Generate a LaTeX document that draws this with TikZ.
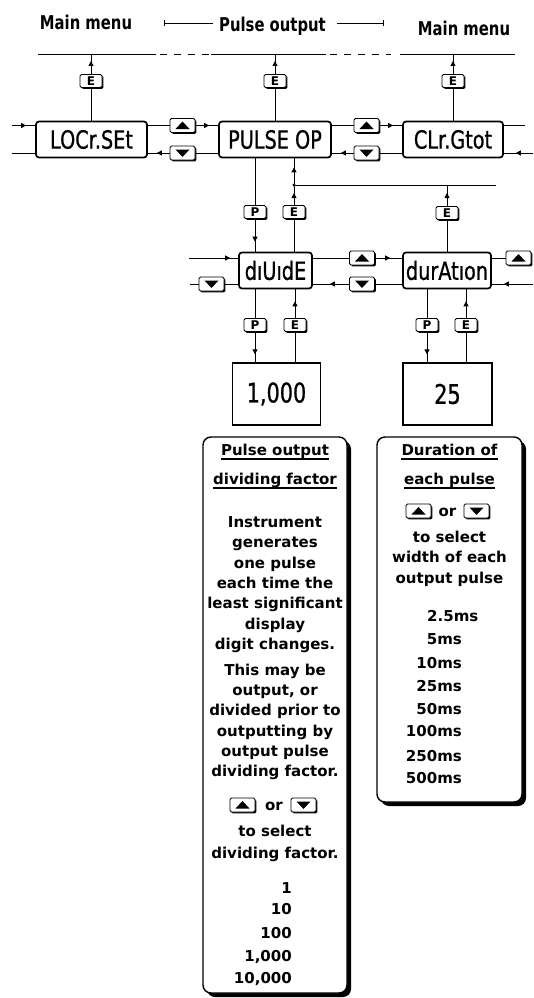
\documentclass[tikz,border=0pt]{standalone}
\usepackage{fontspec}
\setmainfont{DejaVu Sans}
\newfontfamily\dispfont[FakeStretch=0.77,FakeBold=0.8]{DejaVu Sans}
\newfontfamily\headfont[FakeStretch=0.78]{DejaVu Sans}
\usetikzlibrary{arrows.meta,calc,decorations.markings,shadows}
\tikzset{
  conn/.style={line width=0.8pt},
  tipat/.style={postaction={decorate}, decoration={markings, mark=at position #1 with {\arrow{Triangle[length=5pt,width=5pt]}}}},
  menubox/.style={draw, line width=1.7pt, rounded corners=3pt, minimum height=36pt, inner sep=0pt, fill=white, font=\dispfont\fontsize{25}{25}\selectfont},
  keybox/.style={draw, line width=0.9pt, rounded corners=1.5pt, minimum width=22pt, minimum height=13pt, inner sep=0pt, fill=white, font=\bfseries\fontsize{12}{12}\selectfont, general shadow={shadow xshift=1.4pt, shadow yshift=-1.4pt, fill=black}},
  arrkey/.style={keybox, minimum width=25pt, minimum height=14pt},
  upkey/.style={arrkey, path picture={\fill[black, sharp corners] ([xshift=-7pt,yshift=-3.5pt]path picture bounding box.center) -- ([xshift=7pt,yshift=-3.5pt]path picture bounding box.center) -- ([yshift=4pt]path picture bounding box.center) -- cycle;}},
  dnkey/.style={arrkey, path picture={\fill[black, sharp corners] ([xshift=-7pt,yshift=3.5pt]path picture bounding box.center) -- ([xshift=7pt,yshift=3.5pt]path picture bounding box.center) -- ([yshift=-4pt]path picture bounding box.center) -- cycle;}},
  valbox/.style={draw, line width=1.3pt, minimum width=88pt, minimum height=62pt, inner sep=0pt, font=\dispfont\fontsize{27}{27}\selectfont},
  infobox/.style={draw, line width=1.4pt, rounded corners=8pt, fill=white, inner sep=0pt, general shadow={shadow xshift=4pt, shadow yshift=-4pt, fill=black}},
  bodytext/.style={font=\bfseries\fontsize{15}{18}\selectfont, inner sep=0pt, anchor=base},
  toplabel/.style={font=\headfont\bfseries\fontsize{19}{19}\selectfont, inner sep=0pt, anchor=base},
  ulined/.style={line width=1.3pt}
}
\begin{document}
\begin{tikzpicture}[x=1pt,y=-1pt]
\path[fill=white] (0,0) rectangle (533,998);
\useasboundingbox (0,0) rectangle (533,998);

% ---------- top labels ----------
\node[toplabel] (mmL) at (86,30) {Main menu};
\node[toplabel] (po) at (272.5,32) {Pulse output};
\node[toplabel] (mmR) at (464,36) {Main menu};
\coordinate (poL) at (164,23); \coordinate (poLe) at (213,23);
\coordinate (poR) at (384,23); \coordinate (poRs) at (337,23);
\draw[conn, {Bar[width=6pt]}-] (poL) -- (poLe);
\draw[conn, -{Bar[width=6pt]}] (poRs) -- (poR);

% ---------- bar ----------
\coordinate (b1) at (38,54); \coordinate (b2) at (156,54);
\coordinate (b3) at (211,54); \coordinate (b4) at (326,54);
\coordinate (b5) at (391,54); \coordinate (b6) at (400,54);
\coordinate (b7) at (515,54);
\draw[conn] (b1) -- (b2);
\draw[conn, dash pattern=on 7pt off 7pt, dash phase=-4pt] (b2) -- (b3);
\draw[conn] (b3) -- (b4);
\draw[conn, dash pattern=on 7pt off 7pt, dash phase=-4pt] (b4) -- (b5);
\draw[conn] (b6) -- (b7);

% ---------- menu row ----------
\node[menubox, minimum width=111pt] (locr) at (91.5,139.5) {LOCr.SEt};
\node[menubox, minimum width=112pt] (pulse) at (275,139.5) {PULSE OP};
\node[menubox, minimum width=100pt] (clr) at (453,139.5) {CLr.Gtot};

\node[keybox] (e1) at (91,81) {E};
\node[keybox] (e2) at (275,81) {E};
\node[keybox] (e3) at (453,81) {E};
\draw[conn, tipat=-7pt] (e1.north) -- (e1.north |- b1);
\draw[conn, tipat=-7pt] (e2.north) -- (e2.north |- b1);
\draw[conn, tipat=-7pt] (e3.north) -- (e3.north |- b1);
\draw[conn] (e1.south) -- (e1.south |- locr.north);
\draw[conn] (e2.south) -- (e2.south |- pulse.north);
\draw[conn] (e3.south) -- (e3.south |- clr.north);

\coordinate (u1) at (0,125.5); \coordinate (d1) at (0,153);
\coordinate (inL) at (12,125.5); \coordinate (outL) at (12,153);
\coordinate (outR) at (525,125.5); \coordinate (inR) at (533,153);
\node[upkey] (up1) at (182.5,125.5) {};
\node[dnkey] (dn1) at (182.5,153) {};
\node[upkey] (up2) at (366.5,125.5) {};
\node[dnkey] (dn2) at (366.5,153) {};
\draw[conn, tipat=-9pt] (inL) -- (locr.west |- u1);
\draw[conn] (locr.west |- d1) -- (outL);
\draw[conn] (locr.east |- u1) -- (up1);
\draw[conn, tipat=-9pt] (up1) -- (pulse.west |- u1);
\draw[conn] (pulse.west |- d1) -- (dn1);
\draw[conn, tipat=-9pt] (dn1) -- (locr.east |- d1);
\draw[conn] (pulse.east |- u1) -- (up2);
\draw[conn, tipat=-9pt] (up2) -- (clr.west |- u1);
\draw[conn] (clr.west |- d1) -- (dn2);
\draw[conn, tipat=-9pt] (dn2) -- (pulse.east |- d1);
\draw[conn] (clr.east |- u1) -- (outR);
\draw[conn, tipat=-12pt] (inR) -- (clr.east |- d1);

% ---------- second row ----------
\node[menubox, minimum width=73pt] (div) at (275.5,270.5) {dıUıdE};
\node[menubox, minimum width=88pt] (dur) at (447,270.5) {durAtıon};
\node[keybox] (p1) at (255,212) {P};
\node[keybox] (e4) at (294,212) {E};
\node[keybox] (e5) at (447,213) {E};
\coordinate (J) at (294,185);
\coordinate (hend) at (496,185);
\draw[conn] (p1 |- pulse.south) -- (p1.north);
\draw[conn, tipat=-10pt] (p1.south) -- (p1 |- div.north);
\draw[conn, tipat=-8pt] (e4.north) -- (J);
\draw[conn, tipat=-9pt] (J) -- (J |- pulse.south);
\fill (J) circle (1.6pt);
\draw[conn] (J) -- (hend);
\draw[conn, tipat=-8pt] (e5.north) -- (e5 |- J);
\draw[conn] (e4.south) -- (e4 |- div.north);
\draw[conn] (e5.south) -- (e5 |- dur.north);

\coordinate (u2) at (0,258); \coordinate (d2) at (0,284);
\coordinate (inL2) at (189,258); \coordinate (outL2) at (190,284);
\coordinate (inR2) at (533,284);
\node[dnkey] (dn3) at (211.5,284) {};
\node[upkey] (up4) at (362,258) {};
\node[dnkey] (dn4) at (362,284) {};
\node[upkey] (up5) at (518.5,258) {};
\draw[conn, tipat=-8pt] (inL2) -- (div.west |- u2);
\draw[conn] (div.west |- d2) -- (dn3);
\draw[conn] (dn3) -- (outL2);
\draw[conn] (div.east |- u2) -- (up4);
\draw[conn, tipat=-12pt] (up4) -- (dur.west |- u2);
\draw[conn] (dur.west |- d2) -- (dn4);
\draw[conn, tipat=-17pt] (dn4) -- (div.east |- d2);
\draw[conn] (dur.east |- u2) -- (up5);
\draw[conn, tipat=-12pt] (inR2) -- (dur.east |- d2);

% ---------- third row ----------
\node[keybox] (p2) at (255,325) {P};
\node[keybox] (e6) at (295,325) {E};
\node[keybox] (p3) at (427,325) {P};
\node[keybox] (e7) at (466,325) {E};
\node[valbox] (v1) at (276.5,394) {1,000};
\node[valbox, minimum width=89pt] (v2) at (447.5,394) {25};
\draw[conn] (p2 |- div.south) -- (p2.north);
\draw[conn, tipat=-8pt] (p2.south) -- (p2 |- v1.north);
\draw[conn] (e6 |- v1.north) -- (e6.south);
\draw[conn, tipat=-12pt] (e6.north) -- (e6 |- div.south);
\draw[conn] (p3 |- dur.south) -- (p3.north);
\draw[conn, tipat=-8pt] (p3.south) -- (p3 |- v2.north);
\draw[conn] (e7 |- v2.north) -- (e7.south);
\draw[conn, tipat=-12pt] (e7.north) -- (e7 |- dur.south);

% ---------- info boxes ----------
\node[infobox, minimum width=144pt, minimum height=556pt] (ib1) at (275,715) {};
\node[infobox, minimum width=145pt, minimum height=365pt] (ib2) at (449.5,619.5) {};

\node[bodytext] (t1) at (275,455) {Pulse output};
\node[bodytext] (t2) at (275,484) {dividing factor};
\draw[ulined] ([yshift=-4pt]t1.base west) -- ([yshift=-4pt]t1.base east);
\draw[ulined] ([yshift=-4pt]t2.base west) -- ([yshift=-4pt]t2.base east);
\foreach \s/\yy [count=\i] in {Instrument/527,generates/547,one pulse/568,each time the/588,least significant/608,display/629,digit changes./649,This may be/675,output{,} or/695,divided prior to/715,outputting by/736,output pulse/756,dividing factor./776,to select/836,dividing factor./858}
  \node[bodytext] (lb\i) at (275,\yy) {\s};
\node[upkey] (k1) at (242.5,805) {};
\node[bodytext] (or1) at (274,810) {or};
\node[dnkey] (k2) at (303.5,805) {};
\foreach \s/\yy [count=\i] in {1/893,10/914,100/938,1{,}000/961,10{,}000/983}
  \node[bodytext, anchor=base east] (n\i) at (292,\yy) {\s};

\node[bodytext] (t3) at (449.5,455) {Duration of};
\node[bodytext] (t4) at (449.5,484) {each pulse};
\draw[ulined] ([yshift=-4pt]t3.base west) -- ([yshift=-4pt]t3.base east);
\draw[ulined] ([yshift=-4pt]t4.base west) -- ([yshift=-4pt]t4.base east);
\node[upkey] (k3) at (418.5,511) {};
\node[bodytext] (or2) at (447.5,516) {or};
\node[dnkey] (k4) at (476.5,511) {};
\foreach \s/\yy [count=\i] in {to select/542,width of each/562,output pulse/583}
  \node[bodytext] (rb\i) at (449.5,\yy) {\s};
\node[bodytext, anchor=base west] (ms1) at (427,621) {2.5ms};
\foreach \s/\yy [count=\i] in {5ms/644,10ms/668,25ms/691,50ms/714,100ms/736,250ms/761,500ms/783}
  \node[bodytext, anchor=base east] (ms\i x) at (462,\yy) {\s};
\end{tikzpicture}
\end{document}
